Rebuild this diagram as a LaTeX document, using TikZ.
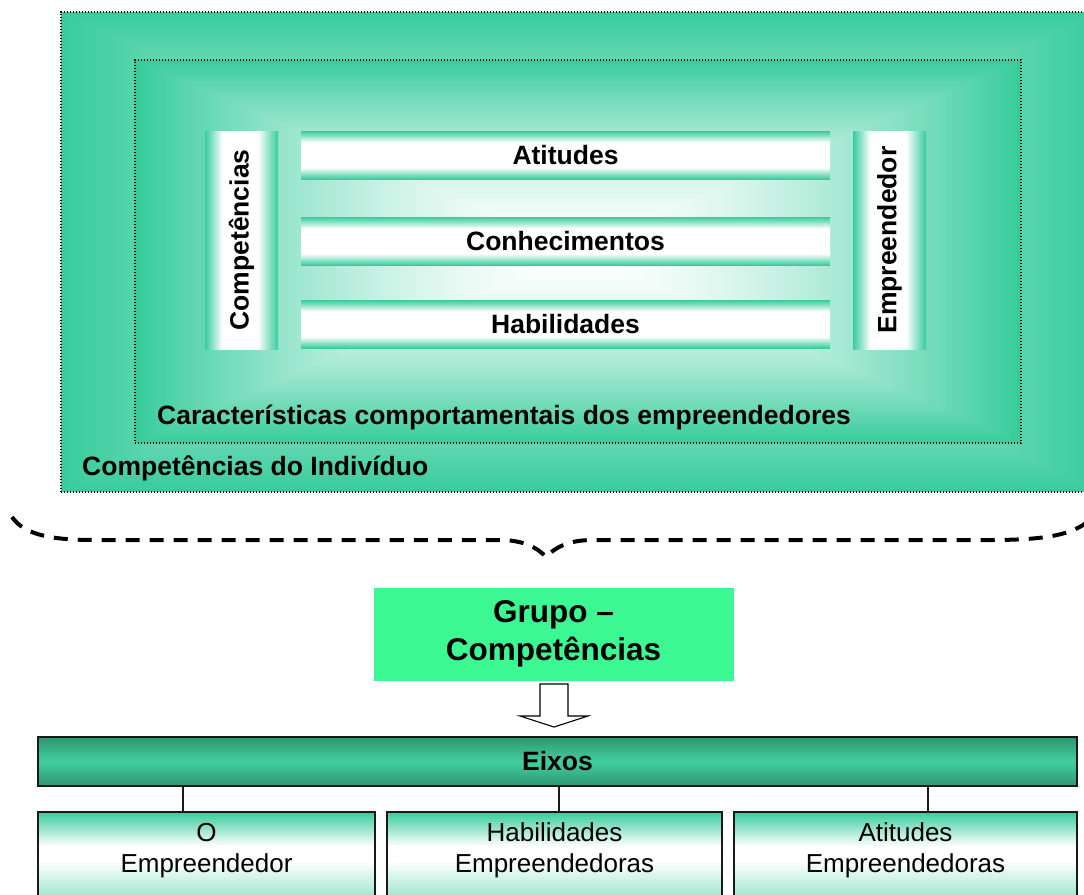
\documentclass[tikz,border=0pt]{standalone}
\usepackage{fontspec}
\setmainfont{Liberation Sans}
\definecolor{kg}{HTML}{38CC9C}
\definecolor{eg}{HTML}{2E9670}
\definecolor{gg}{HTML}{3CF892}
\colorlet{kgl}{kg!55!white}
\pgfdeclareverticalshading{hbarsh}{100bp}{color(0bp)=(kg); color(25bp)=(kg); color(37bp)=(white); color(63bp)=(white); color(75bp)=(kg); color(100bp)=(kg)}
\pgfdeclarehorizontalshading{vbarsh}{100bp}{color(0bp)=(kg); color(25bp)=(kg); color(37bp)=(white); color(61bp)=(white); color(75bp)=(kg); color(100bp)=(kg)}
\pgfdeclareverticalshading{boxsh}{100bp}{color(0bp)=(kgl); color(25bp)=(kgl); color(48bp)=(white); color(56bp)=(white); color(75bp)=(kg); color(100bp)=(kg)}
\tikzset{
  bigbold/.style={font=\fontsize{26.5}{30}\selectfont\bfseries, inner sep=0pt},
  hbar/.style={shade, shading=hbarsh, minimum width=529pt, minimum height=48pt, bigbold},
  vbar/.style={shade, shading=vbarsh, minimum width=73pt, minimum height=218pt, inner sep=0pt},
  dotbox/.style={draw=black, line width=1.4pt, dash pattern=on 1.4pt off 1.6pt, inner sep=0pt},
  eixosbox/.style={draw=black!90, line width=2.2pt, top color=eg, bottom color=eg, middle color=kg!95!white, minimum width=1039pt, minimum height=49pt, inner sep=0pt, bigbold},
  axbox/.style={draw=black!90, line width=2.2pt, shade, shading=boxsh, minimum height=90pt, inner sep=0pt},
  axtext/.style={font=\fontsize{26}{31}\selectfont, align=center, inner sep=0pt},
  conn/.style={draw=black!90, line width=2pt},
  bracestyle/.style={line width=4pt, dash pattern=on 14pt off 10pt},
}
\begin{document}
\begin{tikzpicture}[x=1pt,y=-1pt]
\useasboundingbox (0,0) rectangle (1084,894);
\clip (0,0) rectangle (1084,894);
% outer rectangular gradient
\foreach \i in {0,...,89}{
  \pgfmathsetmacro\s{1-\i/90}
  \pgfmathsetmacro\p{100*(\s)^1.1}
  \fill[kg!\p!white] ({580.5-519.5*\s},{252-240*\s}) rectangle ({580.5+519.5*\s},{252+240*\s});
}
\node[dotbox, minimum width=1049pt, minimum height=480pt] (outer) at (585.5,252) {};
% inner rectangular gradient
\foreach \i in {0,...,89}{
  \pgfmathsetmacro\s{1-\i/90}
  \pgfmathsetmacro\p{100*(\s)^1.6}
  \fill[kg!\p!white] ({578-443*\s},{251.5-191.5*\s}) rectangle ({578+443*\s},{251.5+191.5*\s});
}
\node[dotbox, minimum width=886pt, minimum height=383pt] (inner) at (578,251.5) {};
% bars
\node[hbar] (ati) at (565.5,155) {Atitudes};
\node[hbar] (con) at (565.5,241) {Conhecimentos};
\node[hbar] (hab) at (565.5,324) {Habilidades};
\node[vbar] (vcomp) at (241.5,240) {};
\node[bigbold, rotate=90] (tcomp) at (vcomp.center) {Competências};
\node[vbar] (vemp) at (889.5,240) {};
\node[bigbold, rotate=90] (temp) at (vemp.center) {Empreendedor};
\node[bigbold, anchor=west] (carac) at (157,418) {Características comportamentais dos empreendedores};
\node[bigbold, anchor=west] (indiv) at (82,468) {Competências do Indivíduo};
% brace
\coordinate (bl) at (12,517);
\coordinate (bt) at (546,557);
\coordinate (br) at (1086,523);
\draw[bracestyle] (bl) .. controls (25,536) and (55,540) .. (95,540) -- (500,540)
  .. controls (522,540) and (537,547) .. (bt)
  .. controls (555,547) and (570,540) .. (592,540) -- (990,540)
  .. controls (1040,540) and (1068,536) .. (br);
% group box
\node[fill=gg, minimum width=360pt, minimum height=93pt, inner sep=0pt,
      font=\fontsize{31.5}{38}\selectfont\bfseries, align=center] (grupo) at (553.5,634) {Grupo --\\Competências};
% hollow arrow
\draw[line width=1.1pt, fill=white] (540,684) -- (568,684) -- (568,716) -- (588,716) -- (554,727) -- (520,716) -- (540,716) -- cycle;
% eixos
\node[eixosbox] (eixos) at (557.5,761.5) {Eixos};
% boxes
\node[axbox, minimum width=337pt] (box1) at (206.5,857) {};
\node[axbox, minimum width=335pt] (box2) at (554.5,857) {};
\node[axbox, minimum width=343pt] (box3) at (905.5,857) {};
\node[axtext] (t1) at ([yshift=-39.5pt]box1.north) {O\\Empreendedor};
\node[axtext] (t2) at ([yshift=-39.5pt]box2.north) {Habilidades\\Empreendedoras};
\node[axtext] (t3) at ([yshift=-39.5pt]box3.north) {Atitudes\\Empreendedoras};
% connectors
\path (box1.north) ++(-23.5,0) coordinate (c1);
\path (box2.north) ++(4.5,0) coordinate (c2);
\path (box3.north) ++(22.5,0) coordinate (c3);
\draw[conn] (c1 |- eixos.south) -- (c1);
\draw[conn] (c2 |- eixos.south) -- (c2);
\draw[conn] (c3 |- eixos.south) -- (c3);
\end{tikzpicture}
\end{document}
